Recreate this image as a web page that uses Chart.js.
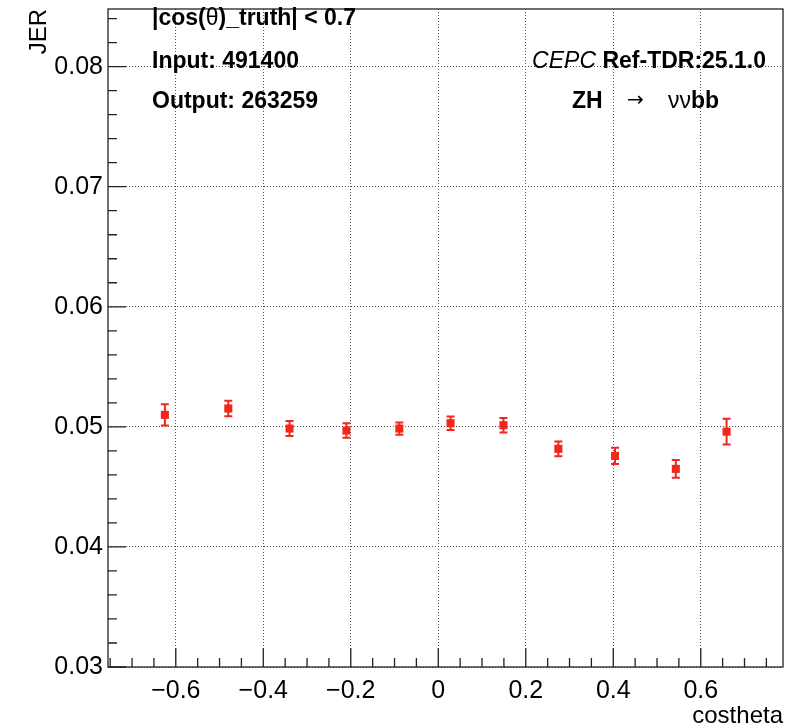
<!DOCTYPE html>
<html>
<head>
<meta charset="utf-8">
<script src="https://cdn.jsdelivr.net/npm/chart.js@4.4.0/dist/chart.umd.min.js"></script>
<style>
  html, body { margin: 0; padding: 0; background: #fff; }
  #wrap { width: 805px; height: 727px; }
</style>
</head>
<body>
<div id="wrap"><canvas id="jerChart"></canvas></div>
<script>
// bin centres (cos theta) and fitted jet energy resolution with errors
const costheta = [-0.625, -0.480, -0.340, -0.210, -0.089, 0.028, 0.149, 0.2745, 0.404, 0.543, 0.659];
const jer = [0.0510, 0.05153, 0.04986, 0.04969, 0.04986, 0.0503, 0.05014, 0.04817, 0.04758, 0.0465, 0.0496];
const jerErr = [0.00088, 0.00065, 0.00062, 0.0006, 0.00051, 0.00056, 0.0006, 0.00061, 0.00067, 0.00074, 0.00108];

const xTicks = [-0.6, -0.4, -0.2, 0, 0.2, 0.4, 0.6];
const yTicks = [0.03, 0.04, 0.05, 0.06, 0.07, 0.08];

const RED = '#f2261a';
const FONT = '"Liberation Sans", Arial, Helvetica, sans-serif';

const points = costheta.map((x, i) => ({ x: x, y: jer[i] }));

// vertical error bars with end caps, ROOT style
const errorBars = {
  id: 'errorBars',
  beforeDatasetsDraw(chart) {
    const ctx = chart.ctx;
    const xs = chart.scales.x, ys = chart.scales.y;
    ctx.save();
    ctx.strokeStyle = RED;
    ctx.lineWidth = 2;
    costheta.forEach((x, i) => {
      const px = xs.getPixelForValue(x);
      const top = ys.getPixelForValue(jer[i] + jerErr[i]);
      const bot = ys.getPixelForValue(jer[i] - jerErr[i]);
      ctx.beginPath();
      ctx.moveTo(px, top); ctx.lineTo(px, bot);
      ctx.moveTo(px - 4, top); ctx.lineTo(px + 4, top);
      ctx.moveTo(px - 4, bot); ctx.lineTo(px + 4, bot);
      ctx.stroke();
    });
    ctx.restore();
  }
};

// frame plus inward major/minor ticks
const rootFrame = {
  id: 'rootFrame',
  afterDatasetsDraw(chart) {
    const ctx = chart.ctx;
    const a = chart.chartArea;
    const xs = chart.scales.x, ys = chart.scales.y;
    ctx.save();
    ctx.strokeStyle = '#222';
    ctx.lineWidth = 1.3;
    ctx.strokeRect(a.left, a.top, a.right - a.left, a.bottom - a.top);
    ctx.beginPath();
    for (let k = -15; k <= 15; k++) {
      const v = k * 0.05;
      const px = xs.getPixelForValue(v);
      if (px < a.left + 1 || px > a.right - 1) continue;
      const len = (k % 4 === 0) ? 19 : 9;
      ctx.moveTo(px, a.bottom); ctx.lineTo(px, a.bottom - len);
    }
    for (let k = 0; k <= 27; k++) {
      const v = 0.03 + k * 0.002;
      const py = ys.getPixelForValue(v);
      if (py < a.top + 1) continue;
      const len = (k % 5 === 0) ? 18 : 9;
      ctx.moveTo(a.left, py); ctx.lineTo(a.left + len, py);
    }
    ctx.stroke();
    ctx.restore();
  }
};

function drawRuns(ctx, runs, x, y) {
  let cx = x;
  runs.forEach(r => {
    ctx.font = r[0];
    ctx.fillText(r[1], cx, y);
    cx += ctx.measureText(r[1]).width;
  });
}
function runsWidth(ctx, runs) {
  let w = 0;
  runs.forEach(r => { ctx.font = r[0]; w += ctx.measureText(r[1]).width; });
  return w;
}

const labels = {
  id: 'labels',
  afterDraw(chart) {
    const ctx = chart.ctx;
    const B = 'bold 23px ' + FONT, N = '23px ' + FONT, I = 'italic 23px ' + FONT;
    ctx.save();
    ctx.fillStyle = '#000';
    ctx.textBaseline = 'alphabetic';
    drawRuns(ctx, [[B, '|cos('], [N, 'θ'], [B, ')_truth| < 0.7']], 152, 25);
    drawRuns(ctx, [[B, 'Input: 491400']], 152, 68);
    drawRuns(ctx, [[B, 'Output: 263259']], 152, 108);
    const tag = [[I, 'CEPC'], [B, ' Ref-TDR:25.1.0']];
    drawRuns(ctx, tag, 766 - runsWidth(ctx, tag), 68);
    drawRuns(ctx, [[B, 'ZH']], 572, 108);
    drawRuns(ctx, [['20px "DejaVu Sans"', '→']], 627, 106);
    drawRuns(ctx, [[N, 'νν'], [B, 'bb']], 668, 108);
    ctx.restore();
  }
};

new Chart(document.getElementById('jerChart'), {
  type: 'scatter',
  data: {
    datasets: [{
      label: 'JER',
      data: points,
      pointStyle: 'rect',
      pointRadius: 5.7,
      pointHoverRadius: 5.7,
      backgroundColor: RED,
      borderColor: RED,
      borderWidth: 0
    }]
  },
  options: {
    responsive: true,
    maintainAspectRatio: false,
    animation: false,
    events: [],
    layout: { padding: { top: 9, right: 22, left: 0, bottom: 0 } },
    plugins: { legend: { display: false }, tooltip: { enabled: false } },
    scales: {
      x: {
        type: 'linear',
        min: -0.755,
        max: 0.788,
        afterFit: s => { s.height = 60; s.paddingLeft = 0; s.paddingRight = 0; },
        afterBuildTicks: s => { s.ticks = xTicks.map(v => ({ value: v })); },
        grid: { color: '#555', lineWidth: 1, drawTicks: false },
        border: { display: false, dash: [1, 2] },
        ticks: {
          autoSkip: false, maxRotation: 0, padding: 9, color: '#000',
          font: { family: FONT, size: 25 },
          callback: v => v === 0 ? '0' : (v < 0 ? '\u2212' : '') + Math.abs(v).toFixed(1)
        },
        title: {
          display: true, text: 'costheta', align: 'end', color: '#000',
          font: { family: FONT, size: 24 }, padding: { top: 0, bottom: -4 }
        }
      },
      y: {
        type: 'linear',
        min: 0.03,
        max: 0.0848,
        afterFit: s => { s.width = 108; s.paddingTop = 0; s.paddingBottom = 0; },
        afterBuildTicks: s => { s.ticks = yTicks.map(v => ({ value: v })); },
        grid: { color: '#555', lineWidth: 1, drawTicks: false },
        border: { display: false, dash: [1, 2] },
        ticks: {
          padding: 5, color: '#000',
          font: { family: FONT, size: 25 },
          callback: v => v.toFixed(2)
        },
        title: {
          display: true, text: 'JER', align: 'end', color: '#000',
          font: { family: FONT, size: 24 }, padding: { top: 25, bottom: 0 }
        }
      }
    }
  },
  plugins: [errorBars, rootFrame, labels]
});
</script>
</body>
</html>
